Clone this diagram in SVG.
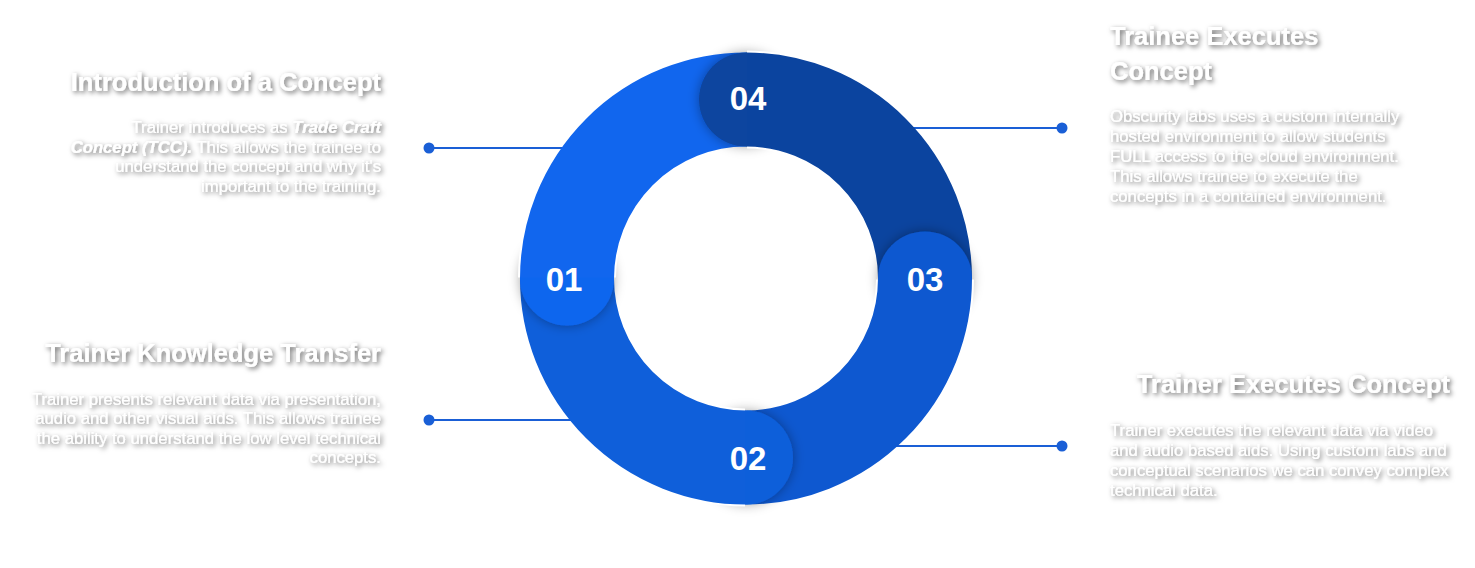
<svg xmlns="http://www.w3.org/2000/svg" width="1475" height="568" viewBox="0 0 1475 568">
<style>
.h{font-family:"Liberation Sans",Arial,sans-serif;font-weight:bold;font-size:25.5px;fill:#fff}
.b{font-family:"Liberation Sans",Arial,sans-serif;font-size:16.7px;fill:#fff}
.e{text-anchor:end}
.bi{font-weight:bold;font-style:italic}
.num{font-family:"Liberation Sans",Arial,sans-serif;font-weight:bold;font-size:33px;fill:#fff;text-anchor:middle}
.conn{stroke:#1a5fd6;stroke-width:2;fill:none}
.dot{fill:#1a5fd6}
.seg{fill:none;stroke-width:94}
</style>
<defs>
<filter id="ts" x="-10%" y="-30%" width="120%" height="160%">
<feDropShadow dx="2" dy="2" stdDeviation="2.5" flood-color="#000" flood-opacity="0.6"/>
</filter>
<filter id="cs" x="-50%" y="-50%" width="200%" height="200%">
<feDropShadow dx="0" dy="0" stdDeviation="6" flood-color="#000" flood-opacity="0.35"/>
</filter>
<clipPath id="cl04"><path clip-rule="evenodd" d="M0,0H1475V568H0Z M747,50.5 A228,228 0 0 1 974,277.5 L876,277.5 A130,130 0 0 0 747,148.5 Z"/></clipPath>
<clipPath id="cl03"><path clip-rule="evenodd" d="M0,0H1475V568H0Z M974,279.5 A228,228 0 0 1 747,506.5 L747,408.5 A130,130 0 0 0 876,279.5 Z"/></clipPath>
<clipPath id="cl02"><path clip-rule="evenodd" d="M0,0H1475V568H0Z M745,506.5 A228,228 0 0 1 518,279.5 L616,279.5 A130,130 0 0 0 745,408.5 Z"/></clipPath>
<clipPath id="cl01"><path clip-rule="evenodd" d="M0,0H1475V568H0Z M518,277.5 A228,228 0 0 1 745,50.5 L745,148.5 A130,130 0 0 0 616,277.5 Z"/></clipPath>
</defs>
<g id="connectors">
<line class="conn" x1="429" y1="148" x2="600" y2="148"/>
<circle class="dot" cx="429" cy="148" r="5.5"/>
<line class="conn" x1="429" y1="420" x2="600" y2="420"/>
<circle class="dot" cx="429" cy="420" r="5.5"/>
<line class="conn" x1="890" y1="128" x2="1062" y2="128"/>
<circle class="dot" cx="1062" cy="128" r="5.5"/>
<line class="conn" x1="880" y1="446" x2="1062" y2="446"/>
<circle class="dot" cx="1062" cy="446" r="5.5"/>
</g>
<g id="ring">
<path class="seg" stroke="#1166ee" d="M567,278.5 A179,179 0 0 1 746,99.5"/>
<path class="seg" stroke="#0b449f" d="M746,99.5 A179,179 0 0 1 925,278.5"/>
<path class="seg" stroke="#0e58d0" d="M925,278.5 A179,179 0 0 1 746,457.5"/>
<path class="seg" stroke="#0f5fda" d="M746,457.5 A179,179 0 0 1 567,278.5"/>
<g clip-path="url(#cl04)"><circle cx="746" cy="99.5" r="47" fill="#0b449f" filter="url(#cs)"/></g>
<g clip-path="url(#cl03)"><circle cx="925" cy="278.5" r="47" fill="#0e58d0" filter="url(#cs)"/></g>
<g clip-path="url(#cl02)"><circle cx="746" cy="457.5" r="47" fill="#0f5fda" filter="url(#cs)"/></g>
<g clip-path="url(#cl01)"><circle cx="567" cy="278.5" r="47" fill="#1166ee" filter="url(#cs)"/></g>
</g>
<g id="node01">
<text class="num" x="564" y="291">01</text>
<g filter="url(#ts)">
<text class="h e" x="381" y="91">Introduction of a Concept</text>
<text class="b e" x="381" y="133">Trainer introduces as <tspan class="bi">Trade Craft</tspan></text>
<text class="b e" x="381" y="153"><tspan class="bi">Concept (TCC).</tspan> This allows the trainee to</text>
<text class="b e" x="381" y="172">understand the concept and why it's</text>
<text class="b e" x="381" y="192">important to the training.</text>
</g>
</g>
<g id="node02">
<text class="num" x="748" y="470">02</text>
<g filter="url(#ts)">
<text class="h e" x="381" y="362">Trainer Knowledge Transfer</text>
<text class="b e" x="381" y="405">Trainer presents relevant data via presentation,</text>
<text class="b e" x="381" y="424">audio and other visual aids. This allows trainee</text>
<text class="b e" x="381" y="444">the ability to understand the low level technical</text>
<text class="b e" x="381" y="463">concepts.</text>
</g>
</g>
<g id="node03">
<text class="num" x="925" y="291">03</text>
<g filter="url(#ts)">
<text class="h e" x="1450" y="393">Trainer Executes Concept</text>
<text class="b" x="1110" y="436">Trainer executes the relevant data via video</text>
<text class="b" x="1110" y="456">and audio based aids. Using custom labs and</text>
<text class="b" x="1110" y="476">conceptual scenarios we can convey complex</text>
<text class="b" x="1110" y="496">technical data.</text>
</g>
</g>
<g id="node04">
<text class="num" x="748" y="110">04</text>
<g filter="url(#ts)">
<text class="h" x="1110" y="45">Trainee Executes</text>
<text class="h" x="1110" y="80">Concept</text>
<text class="b" x="1110" y="122">Obscurity labs uses a custom internally</text>
<text class="b" x="1110" y="142">hosted environment to allow students</text>
<text class="b" x="1110" y="162">FULL access to the cloud environment.</text>
<text class="b" x="1110" y="182">This allows trainee to execute the</text>
<text class="b" x="1110" y="202">concepts in a contained environment.</text>
</g>
</g>
</svg>
